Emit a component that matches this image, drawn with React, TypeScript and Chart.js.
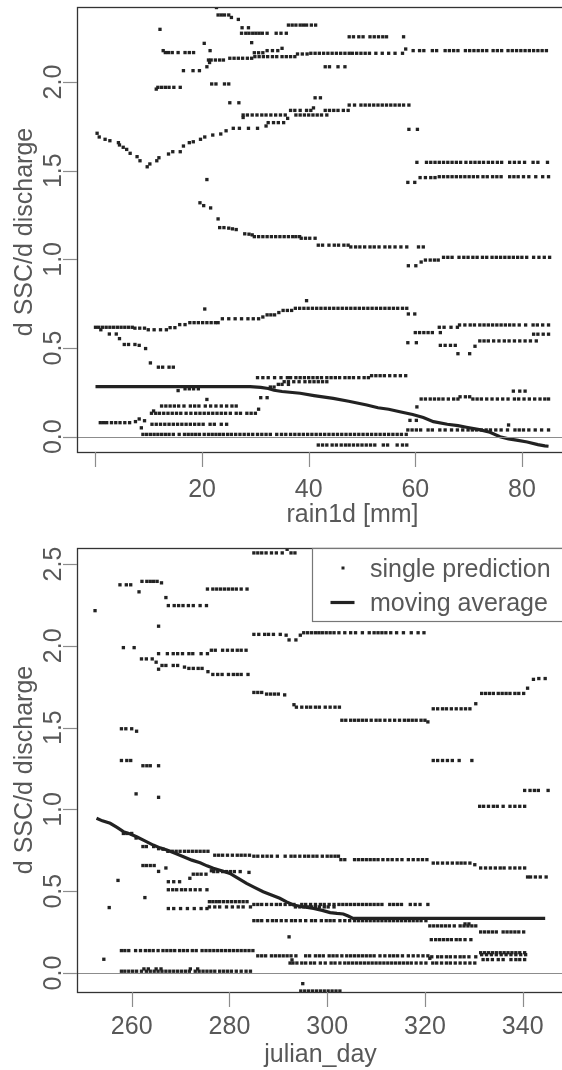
import React, { useEffect, useRef } from "react";
import { Chart, registerables } from "chart.js";

Chart.register(...registerables);

// ---------- rain1d panel ----------
// Each run: first value is the predicted slope, the rest are rain1d values [mm].
const rainRuns: number[][] = [
  [2.42, 22.7],
  [2.378, 23.0, 23.6, 24.2, 25.0],
  [2.364, 25.5],
  [2.353, 26.8],
  [2.306, 27.5, 28.7],
  [2.321, 36.2, 36.9, 37.6, 38.4, 39.0, 39.6, 40.5, 41.3],
  [2.275, 27.4, 28.2, 28.8, 29.5, 30.1, 30.7, 31.3, 32.2, 33.9, 34.8, 35.8],
  [2.222, 29.3],
  [2.218, 20.4],
  [2.297, 12.1],
  [2.255, 47.6, 48.4, 49.4, 50.2, 51.5, 52.3, 53.1, 53.9, 54.6, 57.8],
  [2.177, 12.7],
  [2.166, 13.1, 13.7, 14.4, 15.5, 16.8, 17.6, 18.4],
  [2.177, 21.5],
  [2.165, 29.8, 30.6, 31.4],
  [2.177, 32.2, 33.2, 34.2],
  [2.19, 35.0],
  [2.124, 21.2, 21.7, 22.5, 23.3, 24.0],
  [2.134, 25.2, 26.0, 26.8, 27.6, 28.5, 29.3],
  [2.143, 29.9, 30.7, 31.5, 32.3, 33.2, 34.0, 35.0, 35.8, 36.6, 37.4],
  [2.158, 37.9, 38.8, 39.7],
  [2.162, 40.4, 41.2, 42.0, 42.8, 43.6, 44.4, 45.2, 46.0, 46.8, 47.6],
  [2.162, 48.2, 49.0, 49.8, 50.6, 51.4, 52.6, 53.8, 55.0, 56.2, 57.6],
  [2.186, 58.2],
  [2.177, 59.6, 60.8, 61.6, 63.2, 64.0, 65.6, 66.4, 67.2, 68.0, 69.4, 70.2, 71.0, 71.8, 72.6, 73.4, 74.6, 75.4, 76.2, 77.4, 78.2, 79.0, 79.8, 80.6, 81.4, 82.2, 83.0, 83.8, 84.6],
  [2.086, 20.9],
  [2.11, 21.4],
  [2.086, 43.1, 43.9, 45.5, 46.8],
  [2.064, 16.5, 18.3, 19.5],
  [1.97, 11.7, 12.4, 13.1, 13.8, 14.7, 15.9],
  [1.96, 11.4],
  [1.989, 21.8, 22.6, 24.2, 25.0],
  [1.883, 25.2, 26.9],
  [1.911, 41.2, 42.2],
  [1.87, 47.6, 48.6, 49.8, 50.6, 51.4, 52.2, 53.0, 53.8, 54.6, 55.4, 56.2, 57.0, 57.8, 58.8],
  [1.814, 27.7, 28.5, 29.4, 30.3, 31.2, 32.0, 32.9, 33.8, 34.7, 35.6, 37.6, 38.4, 39.2, 40.0, 40.8, 41.6, 42.4, 43.4],
  [1.80, 27.7],
  [1.84, 36.6, 37.4, 38.4, 39.6, 40.4, 43.1, 43.9, 44.7, 45.5, 46.5, 47.4],
  [1.854, 40.9],
  [1.771, 32.4, 33.4, 34.3, 35.3],
  [1.795, 36.05],
  [1.733, 58.8, 60.4],
  [1.45, 20.9],
  [1.128, 29.8, 30.6, 31.4, 32.2, 33.0, 33.8, 34.6, 35.4, 36.2, 37.0, 37.6, 38.3],
  [1.119, 38.6, 39.4, 40.2, 41.2],
  [1.08, 41.8, 42.6, 43.8, 44.8, 45.6, 46.6, 47.4],
  [1.07, 47.9, 48.8, 49.6, 50.5, 51.5, 52.3, 53.2, 54.3, 55.2, 56.2, 57.3, 58.4, 60.6, 61.5],
  [0.964, 58.7, 60.1],
  [0.985, 61.1],
  [0.996, 61.9, 62.8, 63.6, 64.3],
  [1.0115, 65.3, 66.1, 66.9, 68.2, 69.1, 69.9, 70.8, 71.6, 72.6, 73.4, 74.4, 75.2, 76.0, 76.8, 77.6, 78.4, 79.2, 80.0, 80.9, 82.2, 83.2, 84.2, 85.2],
  [1.434, 58.6, 59.9],
  [1.461, 60.9, 61.9, 62.9, 63.7],
  [1.466, 64.5, 65.3, 66.1, 66.9, 67.7, 68.5, 69.3, 70.1, 70.9, 71.7, 72.7, 73.5, 74.5, 75.3, 76.1, 77.7, 78.5, 79.3, 80.3, 81.3, 82.6, 83.9, 85.0],
  [1.547, 60.3, 62.1, 62.9, 63.7, 64.5, 65.3, 66.1, 66.9, 67.7, 68.5, 69.5, 70.4, 71.2, 72.0, 72.8, 73.7, 74.5, 75.4, 76.2, 77.7, 78.6, 79.5, 80.5, 82.1, 83.0, 84.8],
  [0.617, 0.0, 0.6, 1.3, 2.0, 2.7, 3.4, 4.1, 4.8, 5.5, 6.2, 6.9],
  [0.612, 7.4, 8.3, 9.2],
  [0.603, 9.9, 11.0, 12.2, 13.3],
  [0.615, 14.0, 14.9],
  [0.632, 15.8, 16.8],
  [0.643, 17.7, 18.5, 19.3, 20.1, 20.9, 21.7, 22.5, 23.0],
  [0.665, 23.8, 25.0, 26.2, 27.4, 28.6, 29.6, 30.6],
  [0.675, 31.4],
  [0.687, 32.2, 32.9, 33.6],
  [0.70, 34.4],
  [0.712, 35.2, 36.0, 36.8],
  [0.724, 37.5, 38.3, 39.1, 39.9, 40.7, 41.5, 42.3, 43.1, 43.9, 44.7, 45.5, 46.3, 47.1, 47.9, 48.7, 49.5, 50.3, 51.1, 51.9, 52.7, 53.5, 54.3, 55.1, 55.9, 56.7, 57.6, 58.4],
  [0.72, 20.5],
  [0.767, 39.6],
  [0.692, 58.7, 59.9],
  [0.587, 60.0, 60.8, 61.6, 62.4, 63.2, 64.7],
  [0.617, 64.5, 65.4, 66.7, 67.9],
  [0.63, 68.3, 69.3, 70.3, 71.1, 72.1, 72.9, 73.7, 74.5, 75.3, 76.1, 76.9, 77.7, 78.5, 79.5, 80.7, 82.1, 82.9, 83.9, 85.0],
  [0.578, 82.2, 83.0, 84.0, 85.0],
  [0.53, 58.6, 60.2],
  [0.515, 64.7, 65.6, 66.6, 67.5],
  [0.468, 68.0, 70.2],
  [0.51, 71.2],
  [0.54, 72.1, 72.9, 73.7, 74.7, 75.7, 76.7, 77.6, 78.6, 79.6, 80.6, 81.6, 82.7],
  [0.333, 30.4, 31.4, 32.4, 33.6, 34.8, 36.0, 36.6, 37.6, 38.4, 39.2, 40.0, 40.8, 41.6, 42.4, 43.4, 44.2, 45.0, 45.8, 46.8, 47.6, 48.4, 49.4, 50.4, 51.2],
  [0.344, 51.8, 52.6, 53.4, 54.2, 55.2, 56.2, 57.2, 58.2],
  [0.31, 35.4, 36.2, 37.2, 38.2, 39.3, 40.2, 41.0, 41.8, 42.6, 43.4],
  [0.28, 32.8, 33.5],
  [0.295, 34.3, 35.0, 36.2],
  [0.22, 31.0, 32.2],
  [0.26, 15.5],
  [0.27, 16.8, 17.6, 18.4, 19.3],
  [0.2125, 61.1, 61.9, 62.8, 63.6, 64.4, 65.2, 66.2, 67.2, 68.0, 70.8, 71.6, 72.4, 73.4, 74.4, 75.4, 76.4, 77.4, 78.6, 79.4, 80.4, 81.4, 82.4, 83.4, 84.3, 85.0],
  [0.225, 68.4, 69.4, 70.2],
  [0.257, 78.4, 79.6, 80.6],
  [0.168, 60.3],
  [0.092, 59.0, 60.2],
  [0.038, 58.6, 59.4, 60.2, 61.0, 62.4, 63.2, 64.6, 65.6, 66.8, 67.9, 68.9, 69.9, 70.7, 71.5, 72.4, 73.3, 74.1, 75.1, 76.1, 77.3, 78.7, 79.5, 80.3, 81.3, 82.5, 83.7, 85.0],
  [0.066, 77.5],
  [0.013, 8.9, 9.6, 10.3, 11.0, 11.7, 12.4, 13.1, 13.8, 14.6, 15.7, 16.7, 17.4, 18.1, 18.8, 19.5, 20.4, 21.2, 21.9, 22.6, 23.3, 24.0, 24.8, 25.5, 26.3, 27.1, 27.9, 28.7, 29.5, 30.4, 31.2, 32.0, 32.8, 34.0, 34.9, 35.7, 36.6, 37.4, 38.2, 39.0, 39.8, 40.6, 41.4, 42.2, 43.0, 43.8, 44.6, 45.4, 46.2, 47.0, 47.8, 48.6, 49.4, 50.2, 51.0, 51.8, 52.6, 53.4, 54.2, 55.0, 55.8, 56.6, 57.4, 58.3],
  [-0.047, 41.8, 42.6, 43.4, 44.4, 45.2, 46.1, 46.9, 47.6, 48.4, 49.2, 50.0, 50.8, 51.6, 52.4, 54.0, 54.8, 56.6, 57.6, 58.4],
  [0.132, 10.5, 11.3, 12.0, 12.8, 13.6, 14.4, 15.2, 16.0, 17.0, 17.9, 18.8, 19.6, 20.4, 21.2, 22.0, 22.8, 23.6, 24.4, 25.3, 26.4, 27.2, 28.4, 29.2, 30.0],
  [0.145, 10.9],
  [0.155, 30.6],
  [0.173, 12.4, 13.2, 14.0, 14.8, 15.6, 16.6, 17.8, 18.6, 19.4, 20.6, 21.6, 22.6, 23.6, 24.6, 25.6, 26.4],
  [0.21, 20.9],
  [0.079, 0.9, 1.5, 2.1, 3.0, 3.8, 4.6, 5.5, 6.4],
  [0.085, 7.5],
  [0.10, 8.2],
  [0.05, 8.6],
  [0.09, 9.2],
  [0.07, 10.6, 11.4, 12.2, 13.0, 13.8, 14.6, 15.4, 16.2, 17.0, 17.8, 18.6, 19.4, 20.2, 21.5, 22.3, 23.6, 24.6],
];

// Curved tracks, given as [rain1d, slope] pairs.
const rainPairs: number[][] = [
  [0.3, 1.711], [0.7, 1.69], [1.8, 1.677], [2.7, 1.669], [4.3, 1.658], [4.5, 1.645],
  [5.2, 1.632], [5.85, 1.62], [6.5, 1.598], [7.8, 1.579], [8.35, 1.556], [9.7, 1.522],
  [10.2, 1.538], [11.5, 1.556], [11.9, 1.573], [13.7, 1.594], [14.5, 1.607], [15.9, 1.607],
  [16.5, 1.639], [17.6, 1.658], [18.35, 1.663], [19.7, 1.677], [20.5, 1.69], [22.0, 1.701],
  [23.5, 1.707], [24.5, 1.725], [25.85, 1.739], [27.0, 1.739], [28.7, 1.739], [30.4, 1.739],
  [32.0, 1.752],
  [19.6, 1.319], [20.3, 1.303], [21.6, 1.29], [23.0, 1.228], [23.3, 1.179], [24.1, 1.179],
  [25.0, 1.176], [25.7, 1.172], [26.4, 1.168], [28.0, 1.144], [28.8, 1.142], [29.4, 1.138],
  [1.0, 0.603], [2.6, 0.579], [3.9, 0.579], [4.5, 0.553], [5.4, 0.52], [6.2, 0.52],
  [7.4, 0.52], [8.2, 0.515], [9.4, 0.497], [10.3, 0.416], [11.8, 0.392], [12.6, 0.392],
  [13.8, 0.392], [14.6, 0.392],
];

const rainAvg: number[][] = [
  [0, 0.282], [29, 0.282], [31, 0.278], [32.4, 0.272], [33.5, 0.262], [35, 0.255],
  [38.4, 0.245], [41, 0.232], [44.6, 0.216], [47.5, 0.2], [50.9, 0.179], [53, 0.163],
  [55, 0.155], [57.1, 0.141], [59.5, 0.125], [61.5, 0.108], [63.4, 0.085], [66, 0.07],
  [68, 0.062], [69.6, 0.053], [72, 0.04], [74, 0.025], [75.9, 0.0], [77.5, -0.012],
  [79, -0.019], [81, -0.03], [83, -0.045], [84.3, -0.052], [85, -0.054],
];

const rainTicks = [0, 20, 40, 60, 80];
const rainTickLabels = ["", "20", "40", "60", "80"];
const rainSlopeTicks = [0, 0.5, 1, 1.5, 2];

// ---------- julian_day panel ----------
const dayRuns: number[][] = [
  [2.215, 252.5],
  [2.373, 257.6, 258.9, 259.8],
  [2.33, 261.5],
  [2.394, 262.1, 263.1, 263.8, 264.5, 265.2],
  [2.385, 266.1],
  [2.295, 267.0],
  [2.246, 267.5, 268.7, 269.6, 270.5, 271.6, 272.6, 274.0, 275.3],
  [2.347, 275.5, 276.6, 277.4, 278.2, 279.0, 279.8, 280.6, 281.4, 282.4, 283.6],
  [2.568, 285.0, 285.8, 286.6, 287.5, 288.6, 289.6, 290.8, 292.6, 293.4],
  [2.59, 291.8],
  [2.12, 265.5],
  [1.989, 258.3, 260.5],
  [1.92, 262.0, 263.0, 264.2],
  [1.90, 265.0],
  [1.952, 265.5, 267.3, 268.5, 269.4, 270.4, 271.7, 272.5, 274.2, 275.5],
  [1.973, 276.3, 277.1, 278.6, 279.6, 280.6, 281.6, 282.4, 283.4],
  [1.88, 266.2, 267.0, 268.5, 269.4],
  [1.87, 270.8],
  [1.862, 271.7, 272.6, 273.6, 274.4],
  [1.857, 265.5],
  [1.842, 275.6],
  [1.825, 276.6, 277.6, 278.5, 279.8, 280.8, 281.6, 282.4, 283.8],
  [2.07, 285.0, 286.0, 287.2, 288.0, 289.0, 290.4],
  [2.065, 291.6],
  [2.036, 292.2, 293.6],
  [2.065, 294.5],
  [2.08, 295.2, 296.0, 296.8, 297.6, 298.3, 299.0, 299.8, 300.6, 301.4, 302.4, 303.6, 304.8, 305.8, 307.2, 308.6, 309.6, 310.4, 311.2, 312.0, 313.0, 314.2, 315.6, 317.2, 318.6, 319.8],
  [1.715, 285.0, 285.8, 286.6],
  [1.705, 287.6, 288.4, 289.2, 290.0],
  [1.70, 291.3],
  [1.64, 293.2],
  [1.625, 293.7, 294.8, 295.8, 296.6, 297.6, 298.4, 299.6, 300.6, 301.6, 302.5],
  [1.545, 303.0, 303.8, 304.8, 305.6, 306.4, 307.2, 308.0, 309.0, 310.0, 310.8, 311.8, 312.8, 313.8, 314.8, 315.8, 316.6, 317.4, 318.2, 319.2, 320.0],
  [1.535, 320.6],
  [1.615, 321.7, 322.6, 323.6, 324.4, 325.4, 326.4, 327.4, 328.3, 329.2],
  [1.646, 330.4],
  [1.709, 331.6, 332.4, 333.2, 334.0, 335.0, 335.8, 336.6, 337.4, 338.4, 339.2, 340.2],
  [1.741, 341.0],
  [1.795, 342.2],
  [1.8, 343.3, 344.6],
  [1.299, 321.7, 322.6, 323.6, 324.6, 325.6, 327.0, 329.6],
  [1.019, 331.2, 332.0, 333.0, 334.0, 334.8, 336.0, 337.4, 338.4, 339.4, 340.4],
  [1.116, 340.4, 341.5, 342.4, 343.2, 345.2],
  [1.493, 257.9, 258.8, 260.0],
  [1.478, 261.0],
  [1.299, 257.9, 259.0, 259.8],
  [1.267, 262.3, 263.1, 263.8, 265.5],
  [1.095, 260.9],
  [1.074, 265.5],
  [0.773, 262.3, 263.0, 264.5],
  [0.76, 265.5],
  [0.757, 266.4],
  [0.744, 267.4, 268.3, 269.1, 269.9, 270.8, 271.6, 272.4, 273.2, 274.0, 274.8, 275.6],
  [0.72, 277.0, 277.8, 278.6, 279.6, 280.6, 281.6, 282.4, 283.2, 284.1],
  [0.714, 285.0, 285.8, 286.8, 287.7, 288.6, 289.8, 291.4, 292.6, 293.4, 294.4, 295.4, 296.2, 297.1, 297.9, 299.0, 300.0, 300.8, 301.6, 302.3],
  [0.693, 302.8, 303.6, 305.6, 306.4, 307.2, 308.0, 308.8, 309.6, 310.4, 311.4, 312.4, 313.3, 314.3, 315.3, 316.6, 317.6, 318.6, 319.5, 320.4],
  [0.672, 321.7, 322.6, 323.6, 324.6, 325.6, 326.6, 327.4, 328.2, 329.2],
  [0.662, 330.2],
  [0.642, 331.4, 332.4, 333.4, 334.4, 335.4, 336.2, 337.4, 338.4, 339.4, 340.4],
  [0.587, 341.0, 341.6, 342.6, 343.6, 344.8],
  [0.853, 258.3, 259.0, 260.0],
  [0.825, 260.9],
  [0.657, 262.3, 263.0, 263.8, 264.6],
  [0.621, 265.5],
  [0.642, 267.0],
  [0.558, 267.5, 268.6, 269.8],
  [0.579, 271.9],
  [0.604, 272.6, 273.4, 274.2, 275.2],
  [0.625, 276.3],
  [0.62, 276.8, 277.6, 278.6, 279.4, 280.2, 281.0, 282.2],
  [0.615, 284.0],
  [0.509, 267.5, 268.4, 269.2, 270.2, 271.0, 272.0, 273.0, 274.0, 275.4],
  [0.566, 257.2],
  [0.40, 255.4],
  [0.461, 262.7],
  [0.394, 267.5, 268.6, 270.0, 271.4, 272.8, 274.2, 275.4],
  [0.436, 275.9, 276.6, 277.3, 278.0, 278.8, 279.6, 280.4, 281.2, 282.0, 282.8, 283.6],
  [0.404, 275.9, 277.0, 278.0, 279.4, 280.6, 281.8, 282.8, 284.3],
  [0.419, 285.0, 285.8, 286.6, 287.6, 288.6, 289.6, 290.4, 291.4, 292.4, 293.2, 294.8, 295.6, 296.6, 297.6, 298.6, 299.4, 300.4, 301.4, 302.4, 303.2, 304.0, 304.8, 305.6, 306.4, 307.2, 308.0, 308.8, 309.6, 310.4, 311.2, 312.8, 313.6, 314.4, 315.2, 317.0, 318.0, 319.0, 320.6],
  [0.404, 293.5, 294.4, 295.2, 296.0, 296.8, 297.6, 298.4, 299.4, 300.2, 301.4],
  [0.32, 285.0, 285.8, 286.6, 287.8, 288.8, 289.6, 290.6, 291.6],
  [0.32, 292.7, 293.5, 294.5, 295.6, 296.8, 297.6, 298.8, 299.8, 300.6, 301.4, 302.6, 303.6, 304.6, 305.6, 306.4, 307.2, 308.0, 308.8, 309.6, 310.4, 311.2, 312.0, 312.8, 313.6, 314.4, 315.2, 316.0, 316.8, 317.6, 318.4, 319.2, 320.2],
  [0.288, 321.0, 321.8, 322.6, 323.4, 324.2, 325.0, 326.0, 327.2, 328.0, 328.8, 329.6, 330.4],
  [0.30, 328.2, 329.0],
  [0.251, 331.4, 332.2, 333.0, 333.8, 334.6, 336.0, 336.8, 337.6, 338.4, 339.2, 340.2],
  [0.204, 321.3, 322.2, 323.0, 323.8, 324.6, 325.4, 326.4, 327.2, 328.2, 329.4],
  [0.221, 292.2],
  [0.137, 257.9, 258.6, 259.4, 260.8, 261.8, 262.8, 263.6, 264.4, 265.4, 266.4, 267.2, 268.0, 268.8, 269.8, 270.6, 271.4, 272.4, 273.2, 274.4, 275.2, 276.0, 276.8, 277.6, 278.4, 279.2, 280.0, 280.8, 281.6, 282.4, 283.2, 284.0, 284.8],
  [0.105, 285.8, 286.6, 287.4, 288.6, 289.4, 290.2, 291.0, 291.8, 292.6, 293.6, 295.6, 296.4, 297.6, 298.4, 299.2, 300.4, 301.2, 302.0, 303.0, 304.0, 304.8, 305.6, 306.4, 307.2, 308.0, 308.8, 309.6, 310.8, 311.8, 312.8, 313.6, 314.4, 315.4, 316.6, 317.6, 318.6, 319.6, 320.6],
  [0.061, 292.4, 293.0, 293.8, 294.8, 295.6, 296.6, 297.4, 298.6, 299.6, 300.8, 301.6, 302.6, 303.6, 304.4, 305.2, 306.0, 306.8, 307.6, 308.4, 309.2, 310.0, 310.8, 311.6, 312.4, 313.2, 314.0, 314.8, 315.6, 316.4, 317.2, 318.2, 319.2, 320.2],
  [0.08, 292.8],
  [0.09, 321.0],
  [0.099, 321.4, 322.6, 323.4, 324.4, 325.2, 326.2, 327.2, 328.0, 329.0, 330.4],
  [0.061, 321.6, 322.4, 323.4, 324.4, 325.2, 326.2, 327.2, 328.2, 329.2, 330.2],
  [0.124, 331.4, 332.2, 333.0, 333.8, 334.6, 335.4, 336.2, 337.0, 337.8, 338.6, 339.4, 340.4],
  [0.112, 331.6, 332.6, 333.6, 334.6, 335.6, 336.6, 337.6, 338.6, 339.6, 340.6],
  [0.082, 331.9, 332.8, 333.8, 335.0, 336.0, 337.6, 338.6, 339.4, 340.4],
  [0.084, 254.3],
  [0.011, 257.9, 258.6, 259.4, 260.2, 261.0, 262.0, 263.0, 263.8, 264.6, 265.4, 266.2, 267.0, 267.8, 268.6, 269.4, 270.2, 271.0, 271.8, 273.0, 273.8, 274.6, 275.4, 276.2, 277.0, 278.0, 278.8, 279.6, 280.4, 281.4, 282.4, 283.4, 284.3],
  [0.025, 262.5, 263.4, 265.0, 266.0, 272.0, 273.5],
  [-0.065, 295.0],
  [-0.11, 294.6, 295.4, 296.2, 297.0, 297.8, 298.6, 299.4, 300.2, 301.0, 301.8, 302.6],
];

const dayAvg: number[][] = [
  [252.8, 0.946], [254, 0.93], [255.6, 0.915], [257, 0.89], [258.3, 0.864], [259.7, 0.85],
  [261, 0.833], [262.7, 0.808], [264.4, 0.782], [265.8, 0.765], [267.2, 0.752], [269, 0.73],
  [270.6, 0.711], [272.3, 0.69], [274, 0.674], [275.4, 0.655], [276.7, 0.64], [278.4, 0.625],
  [280.1, 0.609], [281.8, 0.578], [283.5, 0.548], [285.2, 0.522], [286.9, 0.497], [288.6, 0.477],
  [290.3, 0.457], [291.7, 0.435], [293.1, 0.416], [295, 0.405], [297.2, 0.395], [299, 0.383],
  [300.6, 0.369], [302, 0.364], [303.3, 0.361], [304.3, 0.348], [305.3, 0.334], [308.1, 0.334],
  [344.6, 0.334],
];

const dayTicks = [260, 280, 300, 320, 340];
const dayTickLabels = ["260", "280", "300", "320", "340"];
const daySlopeTicks = [0, 0.5, 1, 1.5, 2, 2.5];

const legendLabels = ["single prediction", "moving average"];

// ---------- drawing ----------
const INK = "#222222";
const TEXT = "#585858";
const FONT = '25px "Liberation Sans", Arial, sans-serif';

type Panel = {
  points: { x: number; y: number }[];
  avg: { x: number; y: number }[];
  pad: { left: number; top: number; right: number; bottom: number };
  xMin: number; xMax: number; yMin: number; yMax: number;
  xTicks: number[]; xLabels: string[]; yTicks: number[];
  xTitle: string; xTitleX: number; xTitleY: number;
  tickLabelY: number; yTitleY: number;
  legend: boolean;
};

function runsToPoints(runs: number[][], pairs: number[][]) {
  const pts: { x: number; y: number }[] = [];
  runs.forEach((r) => r.slice(1).forEach((x) => pts.push({ x, y: r[0] })));
  pairs.forEach((p) => pts.push({ x: p[0], y: p[1] }));
  return pts;
}

function framePlugin(p: Panel) {
  return {
    id: "rFrame",
    afterDatasetsDraw(chart: any) {
      const { ctx, chartArea: a, scales } = chart;
      const xs = scales.x, ys = scales.y;
      ctx.save();
      // horizontal reference at zero
      const y0 = Math.round(ys.getPixelForValue(0)) + 0.5;
      ctx.strokeStyle = "#8c8c8c";
      ctx.lineWidth = 1.2;
      ctx.beginPath(); ctx.moveTo(a.left, y0); ctx.lineTo(a.right, y0); ctx.stroke();
      // plot box
      ctx.strokeStyle = "#333";
      ctx.lineWidth = 1.3;
      ctx.strokeRect(Math.round(a.left) + 0.5, Math.round(a.top) + 0.5, a.right - a.left, Math.round(a.bottom - a.top));
      // ticks
      ctx.strokeStyle = "#8c8c8c";
      ctx.lineWidth = 1.2;
      p.xTicks.forEach((v) => {
        const px = Math.round(xs.getPixelForValue(v)) + 0.5;
        ctx.beginPath(); ctx.moveTo(px, a.bottom); ctx.lineTo(px, a.bottom + 15); ctx.stroke();
      });
      p.yTicks.forEach((v) => {
        const py = Math.round(ys.getPixelForValue(v)) + 0.5;
        ctx.beginPath(); ctx.moveTo(a.left - 14, py); ctx.lineTo(a.left, py); ctx.stroke();
      });
      // tick labels
      ctx.fillStyle = TEXT;
      ctx.font = FONT;
      ctx.textAlign = "center";
      ctx.textBaseline = "alphabetic";
      p.xTicks.forEach((v, i) => {
        ctx.fillText(p.xLabels[i], xs.getPixelForValue(v), p.tickLabelY);
      });
      p.yTicks.forEach((v) => {
        ctx.save();
        ctx.translate(54, ys.getPixelForValue(v));
        ctx.rotate(-Math.PI / 2);
        ctx.textBaseline = "middle";
        ctx.fillText(v.toFixed(1), 0, 0);
        ctx.restore();
      });
      // axis titles
      ctx.fillText(p.xTitle, p.xTitleX, p.xTitleY);
      ctx.save();
      ctx.translate(32, p.yTitleY);
      ctx.rotate(-Math.PI / 2);
      ctx.fillText("d SSC/d discharge", 0, 0);
      ctx.restore();
      // legend
      if (p.legend) {
        const lx = 312.5, ly = Math.round(a.top) + 0.5;
        ctx.fillStyle = "#fff";
        ctx.fillRect(lx, ly, 300, 73);
        ctx.strokeStyle = "#777";
        ctx.lineWidth = 1.2;
        ctx.strokeRect(lx, ly, 300, 73);
        ctx.fillStyle = INK;
        ctx.fillRect(341.5, ly + 18, 3, 3);
        ctx.strokeStyle = INK;
        ctx.lineWidth = 3.2;
        ctx.beginPath(); ctx.moveTo(330.5, ly + 54); ctx.lineTo(354.5, ly + 54); ctx.stroke();
        ctx.fillStyle = TEXT;
        ctx.textAlign = "left";
        ctx.fillText(legendLabels[0], 370, ly + 28);
        ctx.fillText(legendLabels[1], 370, ly + 62);
      }
      ctx.restore();
    },
  };
}

function makePanel(canvas: HTMLCanvasElement, p: Panel) {
  return new Chart(canvas, {
    type: "scatter",
    data: {
      datasets: [
        {
          label: legendLabels[0],
          data: p.points,
          pointStyle: "rect",
          pointRadius: 2.35,
          pointBorderWidth: 0,
          pointBackgroundColor: INK,
          showLine: false,
        },
        {
          label: legendLabels[1],
          data: p.avg,
          showLine: true,
          borderColor: INK,
          borderWidth: 3.2,
          pointRadius: 0,
          tension: 0,
        },
      ],
    },
    options: {
      animation: false,
      responsive: false,
      devicePixelRatio: 1,
      events: [],
      layout: { padding: p.pad },
      scales: {
        x: { type: "linear", min: p.xMin, max: p.xMax, display: false },
        y: { type: "linear", min: p.yMin, max: p.yMax, display: false },
      },
      plugins: { legend: { display: false }, tooltip: { enabled: false } },
    } as any,
    plugins: [framePlugin(p)],
  });
}

const rainPanel: Panel = {
  points: runsToPoints(rainRuns, rainPairs),
  avg: rainAvg.map(([x, y]) => ({ x, y })),
  pad: { left: 77, top: 7, right: 12, bottom: 83 },
  xMin: -3.47, xMax: 88.65, yMin: -0.0863, yMax: 2.423,
  xTicks: rainTicks, xLabels: rainTickLabels, yTicks: rainSlopeTicks,
  xTitle: "rain1d [mm]", xTitleX: 352.5, xTitleY: 522,
  tickLabelY: 497, yTitleY: 232,
  legend: false,
};

const dayPanel: Panel = {
  points: runsToPoints(dayRuns, []),
  avg: dayAvg.map(([x, y]) => ({ x, y })),
  pad: { left: 77, top: 13, right: 12, bottom: 78 },
  xMin: 248.81, xMax: 349.27, yMin: -0.1161, yMax: 2.598,
  xTicks: dayTicks, xLabels: dayTickLabels, yTicks: daySlopeTicks,
  xTitle: "julian_day", xTitleX: 320.5, xTitleY: 527,
  tickLabelY: 499, yTitleY: 235,
  legend: true,
};

export default function App() {
  const topRef = useRef<HTMLCanvasElement | null>(null);
  const bottomRef = useRef<HTMLCanvasElement | null>(null);

  useEffect(() => {
    if (!topRef.current || !bottomRef.current) return;
    const a = makePanel(topRef.current, rainPanel);
    const b = makePanel(bottomRef.current, dayPanel);
    return () => {
      a.destroy();
      b.destroy();
    };
  }, []);

  return (
    <div style={{ position: "absolute", left: 0, top: 0, width: 562, height: 1070, overflow: "hidden", background: "#fff" }}>
      <canvas ref={topRef} width={580} height={535} style={{ position: "absolute", left: 0, top: 0, width: 580, height: 535 }} />
      <canvas ref={bottomRef} width={580} height={535} style={{ position: "absolute", left: 0, top: 535, width: 580, height: 535 }} />
    </div>
  );
}
